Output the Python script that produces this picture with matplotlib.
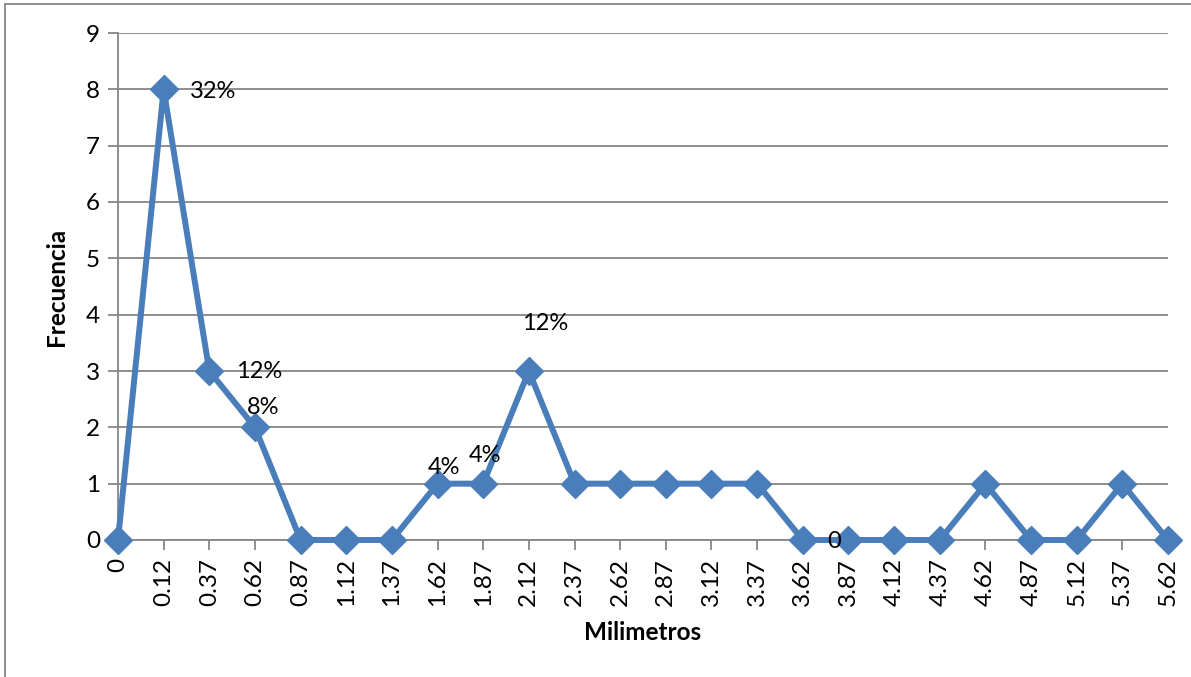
import matplotlib
matplotlib.use("Agg")
import matplotlib.pyplot as plt
from matplotlib.lines import Line2D

plt.rcParams['font.family'] = ['Lato', 'DejaVu Sans']

# categories (milimetros) and frequencies
milimetros = ["0", "0.12", "0.37", "0.62", "0.87", "1.12", "1.37", "1.62", "1.87",
              "2.12", "2.37", "2.62", "2.87", "3.12", "3.37", "3.62", "3.87", "4.12",
              "4.37", "4.62", "4.87", "5.12", "5.37", "5.62"]
frecuencia = [0, 8, 3, 2, 0, 0, 0, 1, 1, 3, 1, 1, 1, 1, 1, 0, 0, 0, 0, 1, 0, 0, 1, 0]

# data labels: (category index, text)
etiquetas = [(1, "32%"), (2, "12%"), (3, "8%"), (7, "4%"), (8, "4%"), (9, "12%"), (16, "0")]
# where excel put each label relative to its point (pixels), and alignment
label_offsets = {1: (26, -2, 'left'), 2: (27, -1, 'left'), 3: (8, 20, 'center'),
                 7: (6, 16, 'center'), 8: (2, 28, 'center'), 9: (16, 47, 'center'),
                 16: (-7, -1, 'right')}

blue = '#4A7EBB'
grey = '#868686'

fig = plt.figure(figsize=(11.91, 6.77), dpi=100)
ax = fig.add_axes([118 / 1191, 137 / 677, 1050 / 1191, 507 / 677])

x = list(range(len(milimetros)))
ax.plot(x, frecuencia, color=blue, lw=4.3, marker='D', markersize=14,
        markerfacecolor=blue, markeredgecolor=blue, clip_on=False, zorder=3)

for idx, txt in etiquetas:
    dx, dy, ha = label_offsets[idx]
    ax.annotate(txt, xy=(idx, frecuencia[idx]), xytext=(dx, dy),
                textcoords='offset pixels', ha=ha, va='center', fontsize=17,
                color='black', zorder=4)

ax.set_xlim(0, len(milimetros) - 1)
ax.set_ylim(0, 9)
ax.set_yticks(range(0, 10))
ax.set_xticks(x)
ax.set_xticklabels(milimetros, rotation=90, fontsize=17.5)
ax.tick_params(axis='y', labelsize=17.5, length=7, width=1.3, color=grey, pad=6)
ax.tick_params(axis='x', length=7, width=1.3, color=grey, pad=6)
ax.grid(axis='y', color=grey, lw=1.3)
ax.set_axisbelow(True)

for side in ['top', 'right']:
    ax.spines[side].set_visible(False)
ax.spines['left'].set_color(grey)
ax.spines['left'].set_linewidth(1.3)
ax.spines['bottom'].set_color(grey)
ax.spines['bottom'].set_linewidth(1.3)

ax.set_xlabel("Milimetros", fontsize=17.5, fontweight='bold')
ax.set_ylabel("Frecuencia", fontsize=17.5, fontweight='bold')
# place the titles where excel had them
ax.xaxis.set_label_coords(0.5, -(632 - 540) / 507)
ax.yaxis.set_label_coords(-(118 - 56) / 1050, 0.5)
ax.xaxis.label.set_va('center')
ax.yaxis.label.set_va('center')

# chart area border (only left and top visible in the crop)
fig.add_artist(Line2D([5 / 1191, 5 / 1191], [0, 1 - 4 / 677], transform=fig.transFigure,
                      color=grey, lw=1.3))
fig.add_artist(Line2D([5 / 1191, 1], [1 - 4 / 677, 1 - 4 / 677], transform=fig.transFigure,
                      color=grey, lw=1.3))

fig.savefig("out.png", dpi=100)
